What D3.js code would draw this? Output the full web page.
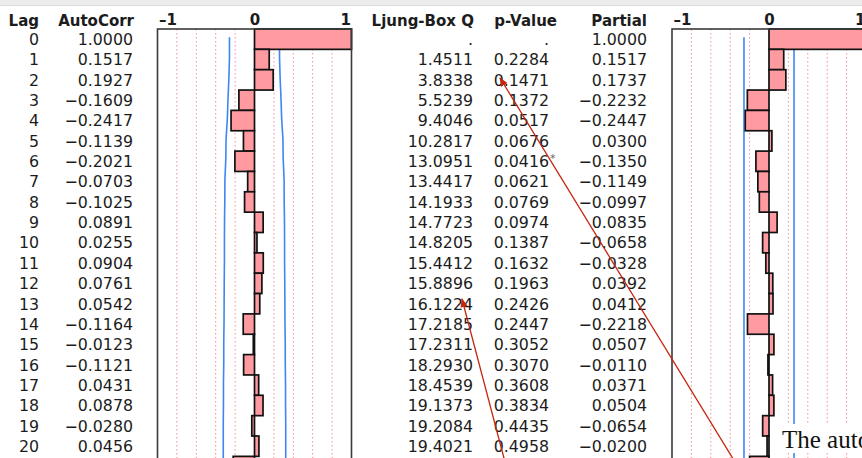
<!DOCTYPE html>
<html>
<head>
<meta charset="utf-8">
<script src="https://cdn.jsdelivr.net/npm/d3@7"></script>
<style>
  body { margin: 0; background: #fff; }
  svg { display: block; }
</style>
</head>
<body>
<svg id="chart" width="862" height="458"></svg>
<script>
// time series autocorrelation table
const lags = [0, 1, 2, 3, 4, 5, 6, 7, 8, 9, 10, 11, 12, 13, 14, 15, 16, 17, 18, 19, 20];
const autoCorr = [1.0000, 0.1517, 0.1927, -0.1609, -0.2417, -0.1139, -0.2021, -0.0703, -0.1025, 0.0891,
    0.0255, 0.0904, 0.0761, 0.0542, -0.1164, -0.0123, -0.1121, 0.0431, 0.0878, -0.0280, 0.0456];
const ljungBox = [null, 1.4511, 3.8338, 5.5239, 9.4046, 10.2817, 13.0951, 13.4417, 14.1933, 14.7723,
    14.8205, 15.4412, 15.8896, 16.1224, 17.2185, 17.2311, 18.2930, 18.4539, 19.1373, 19.2084, 19.4021];
const pValues = [null, 0.2284, 0.1471, 0.1372, 0.0517, 0.0676, 0.0416, 0.0621, 0.0769, 0.0974,
    0.1387, 0.1632, 0.1963, 0.2426, 0.2447, 0.3052, 0.3070, 0.3608, 0.3834, 0.4435, 0.4958];
const partial = [1.0000, 0.1517, 0.1737, -0.2232, -0.2447, 0.0300, -0.1350, -0.1149, -0.0997, 0.0835,
    -0.0658, -0.0328, 0.0392, 0.0412, -0.2218, 0.0507, -0.0110, 0.0371, 0.0504, -0.0654, -0.0200];
// lag 21 is only a sliver at the bottom edge
const extraAcf = -0.22;
const extraPacf = -0.20;
// 2 std err bounds per lag
const acfBound = [0.258, 0.258, 0.264, 0.273, 0.280, 0.293, 0.296, 0.305, 0.306, 0.309, 0.310,
    0.310, 0.312, 0.313, 0.314, 0.317, 0.317, 0.320, 0.320, 0.322, 0.322, 0.322];
const pacfBound = 0.258;
const axisTicks = [-1, 0, 1];
const gridTicks = [-0.8, -0.6, -0.4, -0.2, 0.2, 0.4, 0.6, 0.8];

const FONT = "'DejaVu Sans', Verdana, sans-serif";
const TEXT = "#1c1c1c";
const BAR_FILL = "#ff9aa1";
const BLUE = "#3f86f2";
const ARROW = "#c4260f";

const plotTop = 29, rowH = 20.35;
const svg = d3.select("#chart");

// row scale: band per lag, including the cut-off 22nd row
const allLags = lags.concat([21]);
const y = d3.scaleBand().domain(allLags).range([plotTop, plotTop + rowH * allLags.length]);
const yc = d => y(d) + y.bandwidth() / 2;

// window title strip
svg.append("rect").attr("x", 0).attr("y", 0).attr("width", 862).attr("height", 5).attr("fill", "#ececec");
svg.append("line").attr("x1", 0).attr("x2", 862).attr("y1", 5.5).attr("y2", 5.5).attr("stroke", "#dcdcdc");

// columns of numbers
const fmt = d3.format(".4f");
const num = v => v === null ? "." : fmt(v).replace("-", "\u2013");

function header(text, x, anchor) {
    svg.append("text").attr("x", x).attr("y", 26)
        .attr("text-anchor", anchor)
        .style("font", `bold 15px ${FONT}`)
        .attr("fill", TEXT)
        .text(text);
}

function column(values, x, f) {
    svg.append("g").selectAll("text")
        .data(values)
        .join("text")
        .attr("x", x)
        .attr("y", (d, i) => yc(lags[i]) + 5.8)
        .attr("text-anchor", "end")
        .style("font", `15.8px ${FONT}`)
        .attr("fill", TEXT)
        .text(f);
}

header("Lag", 39, "end");
header("AutoCorr", 134, "end");
header("Ljung-Box Q", 474, "end");
header("p-Value", 557, "end");
header("Partial", 647, "end");

column(lags, 39, d => d);
column(autoCorr, 133, num);
column(ljungBox, 473, num);
column(pValues, 549, num);
column(partial, 647, num);

// significance star (only lag 6 is flagged in the report)
svg.append("text")
    .attr("x", 550)
    .attr("y", yc(6) + 1)
    .style("font", `11px ${FONT}`)
    .attr("fill", "#666")
    .text("*");

// bar panel
function panel(x0, values, extra, boundFn) {
    const x = d3.scaleLinear().domain([-1, 1]).range([x0, x0 + 194]);
    const g = svg.append("g");
    const bottom = 470;

    g.append("rect")
        .attr("x", x(-1)).attr("y", plotTop)
        .attr("width", x(1) - x(-1)).attr("height", bottom - plotTop)
        .attr("fill", "#fff");

    g.append("g").selectAll("line")
        .data(gridTicks)
        .join("line")
        .attr("x1", d => x(d)).attr("x2", d => x(d))
        .attr("y1", plotTop).attr("y2", bottom)
        .attr("stroke", "#f58d98")
        .attr("stroke-width", 1)
        .attr("stroke-dasharray", "1.5,2.5");

    const data = values.map((v, i) => ({lag: lags[i], v})).concat([{lag: 21, v: extra}]);

    // confidence bounds
    const line = d3.line().x(d => d[0]).y(d => d[1]);
    [1, -1].forEach(s => {
        const pts = data.map(d => [x(s * boundFn(d.lag)), yc(d.lag) - 2]);
        pts.push([x(s * boundFn(21)), bottom]);
        g.append("path")
            .attr("d", line(pts))
            .attr("fill", "none")
            .attr("stroke", BLUE)
            .attr("stroke-width", 1.6);
    });

    g.append("g").selectAll("rect")
        .data(data)
        .join("rect")
        .attr("x", d => x(Math.min(0, d.v)))
        .attr("y", d => y(d.lag))
        .attr("width", d => Math.abs(x(d.v) - x(0)))
        .attr("height", y.bandwidth())
        .attr("fill", BAR_FILL)
        .attr("stroke", "#111")
        .attr("stroke-width", 1.7);

    // frame
    g.append("rect")
        .attr("x", x(-1)).attr("y", plotTop)
        .attr("width", x(1) - x(-1)).attr("height", bottom - plotTop)
        .attr("fill", "none")
        .attr("stroke", "#3a3a3a")
        .attr("stroke-width", 1.6);

    // -1 0 1 labels above the frame, end labels tucked inside the frame width
    const ax = g.append("g")
        .attr("transform", `translate(0,${plotTop - 4.5})`)
        .call(d3.axisTop(x).tickValues(axisTicks).tickSize(0).tickPadding(0)
            .tickFormat(d => d === -1 ? "\u20131" : d));
    ax.select(".domain").remove();
    ax.selectAll("text")
        .style("font", `bold 15px ${FONT}`)
        .attr("fill", TEXT)
        .attr("y", 0)
        .attr("dy", 0)
        .attr("text-anchor", d => d === -1 ? "start" : d === 1 ? "end" : "middle")
        .attr("x", d => d === -1 ? 1 : d === 1 ? -1 : 0);
}

panel(157.5, autoCorr, extraAcf, k => acfBound[k]);
panel(672, partial, extraPacf, () => pacfBound);

// pasted annotation: red arrows and a caption fragment
const defs = svg.append("defs");
defs.append("marker")
    .attr("id", "head")
    .attr("viewBox", "0 0 10 10")
    .attr("refX", 9).attr("refY", 5)
    .attr("markerWidth", 7).attr("markerHeight", 7)
    .attr("orient", "auto")
    .append("path").attr("d", "M0,1 L10,5 L0,9 z").attr("fill", ARROW);

const arrows = [
    [[735, 462], [500, 78]],
    [[505, 462], [462, 299]]
];
arrows.forEach(a => {
    svg.append("line")
        .attr("x1", a[0][0]).attr("y1", a[0][1])
        .attr("x2", a[1][0]).attr("y2", a[1][1])
        .attr("stroke", ARROW)
        .attr("stroke-width", 1.3)
        .attr("marker-end", "url(#head)");
});

svg.append("rect").attr("x", 781).attr("y", 424).attr("width", 90).attr("height", 29).attr("fill", "#fff");
svg.append("text")
    .attr("x", 782).attr("y", 448)
    .style("font", "25px 'Liberation Serif', 'Times New Roman', serif")
    .attr("fill", "#111")
    .text("The autocorrelation");
</script>
</body>
</html>
